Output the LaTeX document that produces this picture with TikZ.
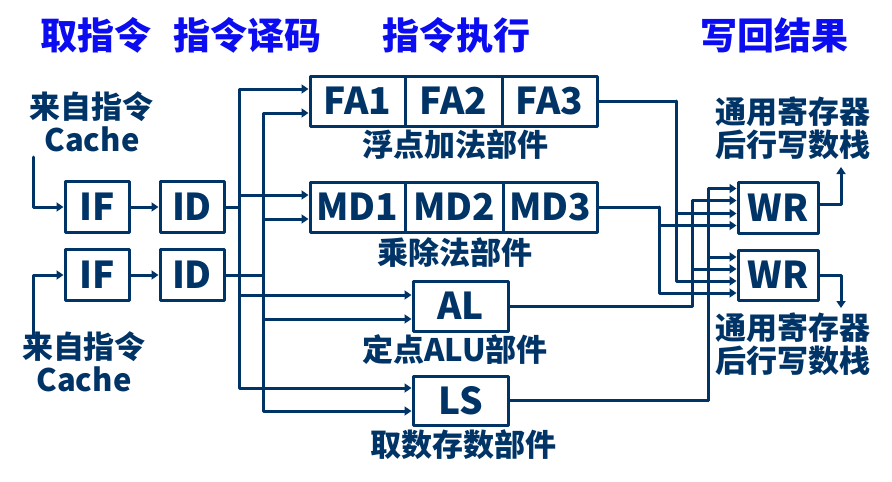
\documentclass[tikz,border=0pt]{standalone}
\usepackage{fontspec}
\setmainfont{Noto Sans CJK SC}
\usetikzlibrary{arrows.meta}
\definecolor{navy}{RGB}{0,51,102}
\definecolor{ttl}{RGB}{12,12,240}
\begin{document}
\begin{tikzpicture}[x=1pt,y=-1pt,
  line join=round, line cap=round,
  box/.style={draw=navy, line width=3pt, minimum height=50pt, inner sep=0pt, text=navy, font=\fontsize{37}{37}\selectfont\bfseries},
  lab/.style={text=navy, inner sep=0pt, align=center, font=\fontsize{31}{33}\selectfont\bfseries},
  ttlst/.style={text=ttl, inner sep=0pt, font=\fontsize{37}{37}\selectfont\bfseries},
  arr/.style={draw=navy, line width=3pt, -{Triangle[length=7pt,width=9pt]}},
  wire/.style={draw=navy, line width=3pt}]
\useasboundingbox (0,0) rectangle (892,482);

% titles
\node[ttlst] (t1) at (96,35) {取指令};
\node[ttlst] (t2) at (247,35) {指令译码};
\node[ttlst] (t3) at (456,35) {指令执行};
\node[ttlst] (t4) at (774,35) {写回结果};

% boxes
\node[box, minimum width=64pt, minimum height=51pt] (IF1) at (97,207) {IF};
\node[box, minimum width=64pt, minimum height=51pt] (ID1) at (192,207) {ID};
\node[box, minimum width=64pt, minimum height=51pt] (IF2) at (97,275) {IF};
\node[box, minimum width=64pt, minimum height=51pt] (ID2) at (192,275) {ID};

\node[box, minimum width=95pt] (FA1) at (357.5,101) {FA1};
\node[box, minimum width=97pt] (FA2) at (453.5,101) {FA2};
\node[box, minimum width=95pt] (FA3) at (549.5,101) {FA3};

\node[box, minimum width=95pt] (MD1) at (357.5,207) {MD1};
\node[box, minimum width=98pt] (MD2) at (454,207) {MD2};
\node[box, minimum width=94pt] (MD3) at (550,207) {MD3};

\node[box, minimum width=95pt] (AL) at (460.5,306) {AL};
\node[box, minimum width=95pt, minimum height=49pt] (LS) at (460.5,400.5) {LS};

\node[box, minimum width=80pt, minimum height=51pt] (WR1) at (778,207.5) {WR};
\node[box, minimum width=80pt, minimum height=50pt] (WR2) at (778,275) {WR};

% labels
\node[lab] (src1) at (92,122) {来自指令\\Cache};
\node[lab] (src2) at (84,362) {来自指令\\Cache};
\node[lab] (reg1) at (793,128) {通用寄存器\\后行写数栈};
\node[lab] (reg2) at (793,344) {通用寄存器\\后行写数栈};
\node[lab] (fal) at (455,145) {浮点加法部件};
\node[lab] (mdl) at (455,252) {乘除法部件};
\node[lab] (all) at (455,350) {定点ALU部件};
\node[lab] (lsl) at (463,445) {取数存数部件};

% inputs
\coordinate (c1) at (33,157);
\coordinate (c2) at (33,335);
\draw[arr] (c1) |- (IF1.west);
\draw[arr] (c2) |- (IF2.west);
\draw[arr] (IF1) -- (ID1);
\draw[arr] (IF2) -- (ID2);

% dispatch buses
\coordinate (b1) at (239,207);
\coordinate (b2) at (263,275);
\draw[arr] (ID1.east) -- (b1) |- ([yshift=12pt]FA1.west);
\draw[arr] (b1) |- ([yshift=12pt]MD1.west);
\draw[arr] (b1) |- ([yshift=11pt]AL.west);
\draw[arr] (b1) |- ([yshift=12.5pt]LS.west);
\draw[arr] (ID2.east) -- (b2) |- ([yshift=-12pt]FA1.west);
\draw[arr] (b2) |- ([yshift=-12pt]MD1.west);
\draw[arr] (b2) |- ([yshift=-13pt]AL.west);
\draw[arr] (b2) |- ([yshift=-10.5pt]LS.west);

% write back
\coordinate (fa) at (676,101);
\coordinate (md) at (659,207);
\coordinate (al) at (692,306);
\coordinate (ls) at (708,400.5);
\draw[arr] (FA3.east) -- (fa) |- ([yshift=-6pt]WR1.west);
\draw[arr] (fa) |- ([yshift=-6pt]WR2.west);
\draw[arr] (MD3.east) -- (md) |- ([yshift=-18pt]WR1.west);
\draw[arr] (md) |- ([yshift=-18pt]WR2.west);
\draw[arr] (AL.east) -- (al) |- ([yshift=7pt]WR1.west);
\draw[arr] (al) |- ([yshift=6pt]WR2.west);
\draw[arr] (LS.east) -- (ls) |- ([yshift=19pt]WR1.west);
\draw[arr] (ls) |- ([yshift=18pt]WR2.west);

% outputs
\coordinate (o1) at (841,167);
\coordinate (o2) at (841,308);
\draw[arr] ([yshift=3pt]WR1.east) -| (o1);
\draw[arr] (WR2.east) -| (o2);
\end{tikzpicture}
\end{document}
